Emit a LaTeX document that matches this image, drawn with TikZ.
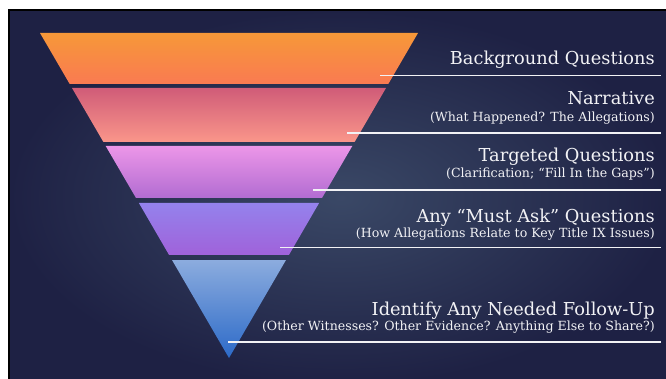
\documentclass[tikz,border=0pt]{standalone}
\usepackage{fontspec}
\setmainfont{DejaVu Serif}
\definecolor{slidebg}{RGB}{30,33,68}
\definecolor{slideglow}{RGB}{58,72,102}
\definecolor{labeltext}{RGB}{242,242,245}

\begin{document}
\begin{tikzpicture}[x=1pt, y=-1pt,
            title/.style={anchor=base east, inner sep=0pt, text=labeltext, font=\fontsize{17.8}{20}\selectfont},
            subtitle/.style={anchor=base east, inner sep=0pt, text=labeltext, font=\fontsize{12.6}{14}\selectfont},
            rule/.style={draw=labeltext, line width=1.4pt},
            band/.style={draw=none}
            ]

            % Slide
            \useasboundingbox (0,0) rectangle (666,379);
            \fill[white] (0,0) rectangle (666,379);
            \shade[inner color=slideglow, outer color=slidebg] (9,10) rectangle (672,385);
            \draw[black, line width=2.5pt] (9,383) -- (9,10) -- (670,10);

            % Funnel bands
            \shade[band, top color={rgb,255:red,246;green,152;blue,56}, bottom color={rgb,255:red,250;green,122;blue,82}]
                (40,33) -- (418,33) -- (388.3,84) -- (69.7,84) -- cycle;
            \shade[band, top color={rgb,255:red,208;green,92;blue,120}, bottom color={rgb,255:red,250;green,150;blue,138}]
                (72,88) -- (386,88) -- (354.6,142) -- (103.4,142) -- cycle;
            \shade[band, top color={rgb,255:red,236;green,150;blue,232}, bottom color={rgb,255:red,178;green,108;blue,210}]
                (105.7,146) -- (352.3,146) -- (322,198) -- (136,198) -- cycle;
            \shade[band, top color={rgb,255:red,148;green,130;blue,236}, bottom color={rgb,255:red,160;green,98;blue,218}]
                (138.9,203) -- (319.1,203) -- (288.9,255) -- (169.1,255) -- cycle;
            \shade[band, top color={rgb,255:red,140;green,172;blue,222}, bottom color={rgb,255:red,44;green,106;blue,200}]
                (172,260) -- (286,260) -- (229,358) -- cycle;

            % Labels
            \node[title] (background) at (655,65) {Background Questions};
            \node[title] (narrative) at (655,105) {Narrative};
            \node[subtitle] (narrativesub) at (655,122) {(What Happened? The Allegations)};
            \node[title] (targeted) at (655,162) {Targeted Questions};
            \node[subtitle] (targetedsub) at (655,178) {(Clarification; “Fill In the Gaps”)};
            \node[title] (mustask) at (655,223) {Any “Must Ask” Questions};
            \node[subtitle] (mustasksub) at (655,237) {(How Allegations Relate to Key Title IX Issues)};
            \node[title] (followup) at (655,315) {Identify Any Needed Follow-Up};
            \node[subtitle] (followupsub) at (655,330) {(Other Witnesses? Other Evidence? Anything Else to Share?)};

            % Rules under the labels
            \coordinate (rule1a) at (380,75.5);
            \coordinate (rule1b) at (661,75.5);
            \coordinate (rule2a) at (347,133);
            \coordinate (rule2b) at (661,133);
            \coordinate (rule3a) at (313,190);
            \coordinate (rule3b) at (661,190);
            \coordinate (rule4a) at (280,247.5);
            \coordinate (rule4b) at (661,247.5);
            \coordinate (rule5a) at (228,342);
            \coordinate (rule5b) at (661,342);
            \draw[rule] (rule1a) -- (rule1b);
            \draw[rule] (rule2a) -- (rule2b);
            \draw[rule] (rule3a) -- (rule3b);
            \draw[rule] (rule4a) -- (rule4b);
            \draw[rule] (rule5a) -- (rule5b);

        \end{tikzpicture}
\end{document}
